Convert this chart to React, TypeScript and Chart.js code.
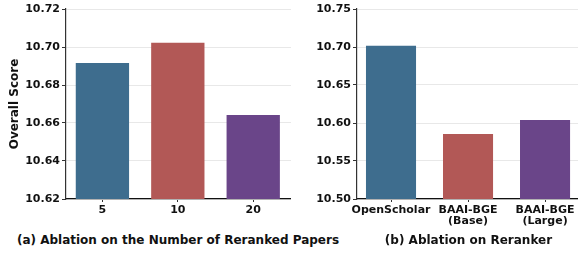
import React, { useEffect, useRef } from "react";
import { Chart, registerables } from "chart.js";

Chart.register(...registerables);

const FONT = "'DejaVu Sans', sans-serif";

const catsA: string[][] = [["5"], ["10"], ["20"]];
const valsA: number[] = [10.6916, 10.7022, 10.6642];
const yTicksA: number[] = [10.62, 10.64, 10.66, 10.68, 10.7, 10.72];

const catsB: string[][] = [["OpenScholar"], ["BAAI-BGE", "(Base)"], ["BAAI-BGE", "(Large)"]];
const valsB: number[] = [10.7016, 10.5854, 10.6039];
const yTicksB: number[] = [10.5, 10.55, 10.6, 10.65, 10.7, 10.75];

const barColors = ["#3e6d8e", "#b25856", "#6a4589"];

const captionA = "(a) Ablation on the Number of Reranked Papers";
const captionB = "(b) Ablation on Reranker";

type Cfg = {
  cats: string[][];
  vals: number[];
  yTicks: number[];
  xMin: number;
  xMax: number;
  barPct: number;
  yWidth: number;
  yTitle?: string;
  width: number;
  height: number;
};

function BarPanel(props: Cfg) {
  const ref = useRef<HTMLCanvasElement | null>(null);
  useEffect(() => {
    const { cats, vals, yTicks, xMin, xMax, barPct, yWidth, yTitle } = props;
    const ctx = ref.current!.getContext("2d")!;
    const xH = 31;
    const chart = new Chart(ctx, {
      type: "bar",
      data: {
        datasets: [
          {
            data: vals.map((v, i) => ({ x: i, y: v })),
            backgroundColor: barColors,
            borderWidth: 0,
            barPercentage: barPct,
            categoryPercentage: 1,
          },
        ],
      },
      options: {
        animation: false,
        responsive: false,
        devicePixelRatio: 1,
        layout: { padding: { top: 9, left: 0, right: 0, bottom: 0 } },
        plugins: { legend: { display: false }, tooltip: { enabled: false } },
        scales: {
          x: {
            type: "linear",
            offset: false,
            min: xMin,
            max: xMax,
            afterBuildTicks: (axis: any) => {
              axis.ticks = cats.map((_, i) => ({ value: i }));
            },
            afterFit: (s: any) => {
              s.height = xH;
            },
            ticks: {
              autoSkip: false,
              maxRotation: 0,
              padding: 2,
              color: "#111",
              font: { family: FONT, size: 11, weight: "bold", lineHeight: 1.05 },
              callback: (v: any) => {
                const c = cats[Math.round(Number(v))];
                return c ? (c.length > 1 ? c : c[0]) : "";
              },
            },
            grid: {
              offset: false,
              drawOnChartArea: false,
              drawTicks: true,
              tickLength: 3,
              tickColor: "#333",
            },
            border: { display: true, color: "#111", width: 1.2 },
          },
          y: {
            type: "linear",
            min: yTicks[0],
            max: yTicks[yTicks.length - 1],
            afterBuildTicks: (axis: any) => {
              axis.ticks = yTicks.map((v) => ({ value: v }));
            },
            afterFit: (s: any) => {
              s.width = yWidth;
            },
            ticks: {
              padding: 2,
              color: "#111",
              font: { family: FONT, size: 11, weight: "bold" },
              callback: (v: any) => Number(v).toFixed(2),
            },
            grid: {
              color: "#e8e8e8",
              lineWidth: 1,
              tickLength: 4,
              tickColor: "#333",
            },
            border: { display: true, color: "#333", width: 1.2 },
            title: yTitle
              ? {
                  display: true,
                  text: yTitle,
                  color: "#111",
                  font: { family: FONT, size: 12, weight: "bold" },
                  padding: { top: 7.5, bottom: 0 },
                }
              : { display: false },
          },
        },
      } as any,
    });
    return () => chart.destroy();
  }, []);
  return <canvas ref={ref} width={props.width} height={props.height} style={{ display: "block" }} />;
}

export default function App() {
  const capStyle: React.CSSProperties = {
    position: "absolute",
    top: 233,
    fontFamily: FONT,
    fontWeight: "bold",
    fontSize: 12,
    lineHeight: "15px",
    color: "#111",
    textAlign: "center",
    whiteSpace: "nowrap",
  };
  return (
    <div style={{ position: "fixed", left: 0, top: 0, width: 578, height: 253, background: "#fff", overflow: "hidden" }}>
      <div style={{ position: "absolute", left: 0, top: 0 }}>
        <BarPanel
          cats={catsA}
          vals={valsA}
          yTicks={yTicksA}
          xMin={-0.483}
          xMax={2.501}
          barPct={0.707}
          yWidth={66}
          yTitle="Overall Score"
          width={291}
          height={230}
        />
      </div>
      <div style={{ position: "absolute", left: 290, top: 0 }}>
        <BarPanel
          cats={catsB}
          vals={valsB}
          yTicks={yTicksB}
          xMin={-0.4416}
          xMax={2.428}
          barPct={0.65}
          yWidth={67}
          width={288}
          height={230}
        />
      </div>
      <div style={{ ...capStyle, left: 0, width: 356 }}>{captionA}</div>
      <div style={{ ...capStyle, left: 360, width: 217 }}>{captionB}</div>
    </div>
  );
}
